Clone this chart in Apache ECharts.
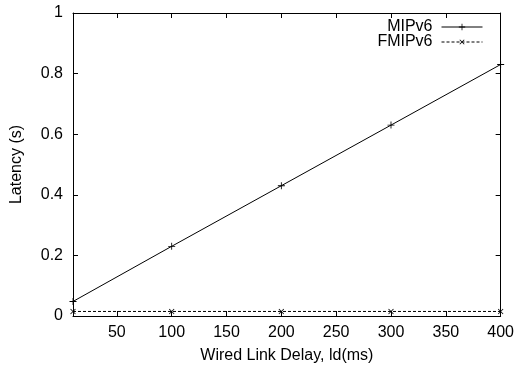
<!DOCTYPE html>
<html>
<head>
<meta charset="utf-8">
<script src="https://cdn.jsdelivr.net/npm/echarts@6/dist/echarts.min.js"></script>
<style>
html,body{margin:0;padding:0;background:#fff;}
#chart{width:517px;height:369px;}
</style>
</head>
<body>
<div id="chart"></div>
<script>
const xValues = [10, 100, 200, 300, 400];
const mipv6 = [0.048, 0.23, 0.43, 0.63, 0.83];
const fmipv6 = [0.015, 0.015, 0.015, 0.015, 0.015];
const xTicks = [50, 100, 150, 200, 250, 300, 350, 400];
const yTicks = [0, 0.2, 0.4, 0.6, 0.8, 1];
const seriesNames = ['MIPv6', 'FMIPv6'];

const FONT = '"Liberation Sans", Arial, Helvetica, sans-serif';
const FS = 16;
const plus = 'path://M0,4.4H10V5.6H0ZM4.4,0H5.6V10H4.4Z';

const chart = echarts.init(document.getElementById('chart'), null, {renderer: 'canvas'});

const axisLine = {show: true, onZero: false, lineStyle: {color: '#000', width: 1}};
const tickStyle = {show: true, inside: true, length: 5, lineStyle: {color: '#000', width: 1}};

chart.setOption({
  animation: false,
  backgroundColor: '#fff',
  textStyle: {fontFamily: FONT},
  grid: {left: 73, right: 14, top: 13, bottom: 53},
  legend: {
    orient: 'vertical',
    right: 29,
    top: 14,
    align: 'right',
    itemWidth: 41,
    itemHeight: 8,
    itemGap: -1,
    lineStyle: {width: 1},
    textStyle: {fontFamily: FONT, fontSize: FS, color: '#000', padding: [0, 4, 0, 0]},
    data: seriesNames
  },
  xAxis: [{
    type: 'value', min: 10, max: 400, position: 'bottom',
    axisLine: axisLine,
    axisTick: Object.assign({}, tickStyle, {customValues: xTicks}),
    axisLabel: {customValues: xTicks, color: '#000', fontSize: FS, fontFamily: FONT, margin: 9},
    splitLine: {show: false},
    name: 'Wired Link Delay, ld(ms)', nameLocation: 'middle', nameGap: 32,
    nameTextStyle: {color: '#000', fontSize: FS, fontFamily: FONT}
  }, {
    type: 'value', min: 10, max: 400, position: 'top',
    axisLine: axisLine,
    axisTick: Object.assign({}, tickStyle, {customValues: xTicks}),
    axisLabel: {show: false},
    splitLine: {show: false}
  }],
  yAxis: [{
    type: 'value', min: 0, max: 1, interval: 0.2, position: 'left',
    axisLine: axisLine,
    axisTick: Object.assign({}, tickStyle, {customValues: yTicks}),
    axisLabel: {customValues: yTicks, color: '#000', fontSize: FS, fontFamily: FONT, margin: 10},
    splitLine: {show: false},
    name: 'Latency (s)', nameLocation: 'middle', nameGap: 48,
    nameTextStyle: {color: '#000', fontSize: FS, fontFamily: FONT}
  }, {
    type: 'value', min: 0, max: 1, interval: 0.2, position: 'right',
    axisLine: axisLine,
    axisTick: Object.assign({}, tickStyle, {customValues: yTicks}),
    axisLabel: {show: false},
    splitLine: {show: false}
  }],
  series: [{
    name: seriesNames[0], type: 'line',
    data: xValues.map((x, i) => [x, mipv6[i]]),
    symbol: plus, symbolSize: 7,
    lineStyle: {color: '#000', width: 1},
    itemStyle: {color: '#000'}
  }, {
    name: seriesNames[1], type: 'line',
    data: xValues.map((x, i) => [x, fmipv6[i]]),
    symbol: plus, symbolSize: 7, symbolRotate: 45,
    lineStyle: {color: '#000', width: 1, type: [3, 2]},
    itemStyle: {color: '#000'}
  }]
});
</script>
</body>
</html>
